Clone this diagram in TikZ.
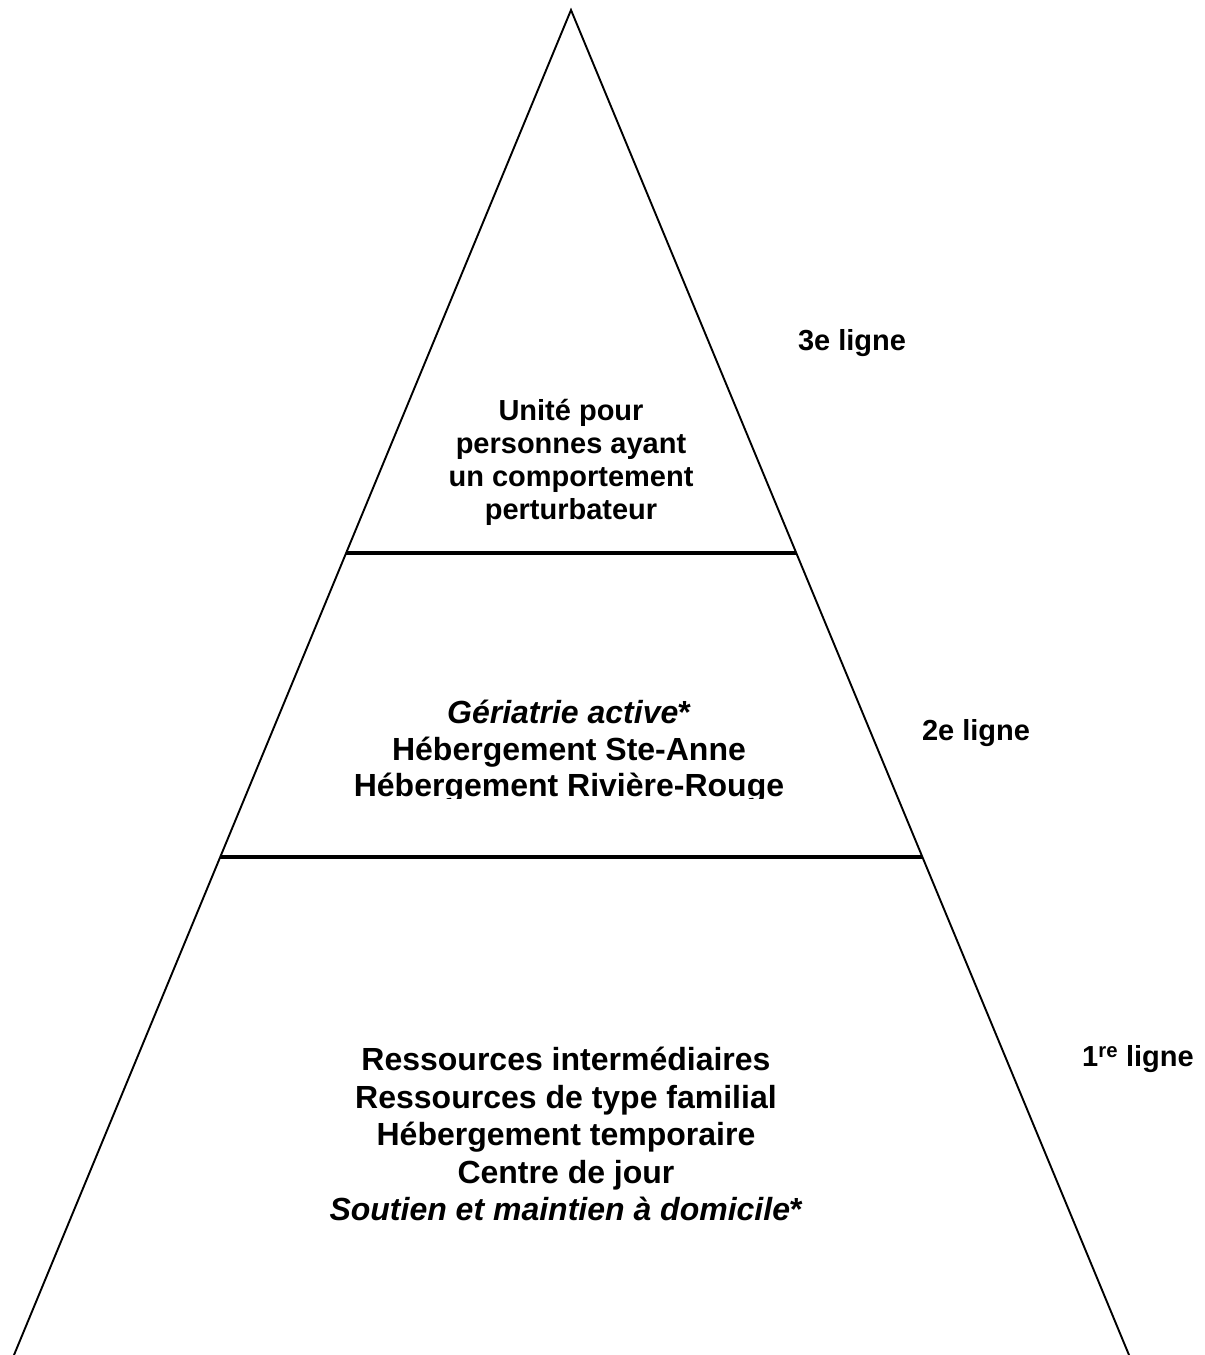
\documentclass[tikz,border=0pt]{standalone}
\usepackage{fontspec}
\setmainfont{Liberation Sans}
\usetikzlibrary{calc}
\tikzset{
  side/.style={line width=1.9pt, black},
  sep/.style={line width=3.2pt, black},
  blocktext/.style={align=center, font=\bfseries, inner sep=0pt},
  lbl/.style={font=\bfseries\fontsize{29}{33}\selectfont, inner sep=0pt}
}
\begin{document}
\begin{tikzpicture}[x=1pt,y=-1pt]
\useasboundingbox (0,0) rectangle (1205,1355);
\coordinate (apex) at (571,10);
\coordinate (bl) at (14,1355);
\coordinate (br) at (1129,1355);
\coordinate (s1l) at ($(apex)!0.4037!(bl)$);
\coordinate (s1r) at ($(apex)!0.4037!(br)$);
\coordinate (s2l) at ($(apex)!0.6297!(bl)$);
\coordinate (s2r) at ($(apex)!0.6297!(br)$);
\draw[side, line join=miter] ($(apex)!1.01!(bl)$) -- (apex) -- ($(apex)!1.01!(br)$);
\draw[sep] (s1l) -- (s1r);
\draw[sep] (s2l) -- (s2r);
\node[blocktext, font=\bfseries\fontsize{29}{33}\selectfont] (top) at (571,462)
  {Unité pour\\personnes ayant\\un comportement\\perturbateur};
\begin{scope}
\clip (0,0) rectangle (1205,798);
\node[blocktext, font=\bfseries\fontsize{32}{36.5}\selectfont] (mid) at (569,752)
  {\textit{Gériatrie active}*\\Hébergement Ste-Anne\\Hébergement Rivière-Rouge};
\end{scope}
\node[blocktext, font=\bfseries\fontsize{32}{37.5}\selectfont] (bot) at (566,1134)
  {Ressources intermédiaires\\Ressources de type familial\\Hébergement temporaire\\Centre de jour\\\textit{Soutien et maintien à domicile}*};
\node[lbl] (l3) at (852,343) {3e ligne};
\node[lbl] (l2) at (976,733) {2e ligne};
\node[lbl] (l1) at (1138,1059) {1\textsuperscript{re} ligne};
\end{tikzpicture}
\end{document}
